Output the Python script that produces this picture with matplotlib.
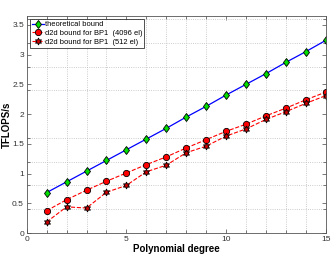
import matplotlib
matplotlib.use("Agg")
import matplotlib.pyplot as plt
from matplotlib.ticker import MultipleLocator

degree = list(range(1, 16))
theoretical = [0.68, 0.86, 1.04, 1.22, 1.40, 1.58, 1.76, 1.95, 2.13, 2.32,
               2.50, 2.68, 2.87, 3.05, 3.24]
d2d_4096 = [0.375, 0.56, 0.72, 0.87, 1.01, 1.15, 1.28, 1.43, 1.57, 1.71,
            1.83, 1.97, 2.10, 2.24, 2.37]
d2d_512 = [0.185, 0.44, 0.42, 0.685, 0.80, 1.03, 1.14, 1.35, 1.46, 1.63,
           1.75, 1.91, 2.04, 2.18, 2.31]

plt.rcParams['font.family'] = ['Liberation Sans', 'DejaVu Sans']

fig = plt.figure(figsize=(3.32, 2.57), dpi=100)
ax = fig.add_axes([26.7 / 332, 24 / 257, 299 / 332, 217 / 257])

ax.plot(degree, theoretical, color='blue', lw=0.9, marker='d', ms=4.5,
        mfc='#00dd00', mec='black', mew=0.6, label='theoretical bound')
ax.plot(degree, d2d_4096, color='red', lw=0.8, ls='--', marker='o', ms=4.5,
        mfc='red', mec='black', mew=0.6, label='d2d bound for BP1  (4096 el)')
ax.plot(degree, d2d_512, color='red', lw=0.8, ls='--', marker=(6, 1, 0), ms=5,
        mfc='#cc0000', mec='black', mew=0.6, label='d2d bound for BP1  (512 el)')

ax.set_xlim(0, 15)
ax.set_ylim(0, 3.65)
ax.xaxis.set_major_locator(MultipleLocator(5))
ax.xaxis.set_minor_locator(MultipleLocator(1))
ax.yaxis.set_minor_locator(MultipleLocator(0.4))
ax.set_yticks([0, 0.5, 1, 1.5, 2, 2.5, 3, 3.5])
ax.set_yticklabels(['0', '0.5', '1', '1.5', '2', '2.5', '3', '3.5'])
ax.tick_params(which='both', direction='in', top=True, right=True, pad=2,
               labelsize=6, colors='#444444', labelcolor='#333333', width=0.5)
ax.tick_params(which='major', length=3)
ax.tick_params(which='minor', length=2)
ax.grid(True, which='minor', color='#bbbbbb', ls=':', lw=0.6)
ax.grid(False, which='major')
for s in ax.spines.values():
    s.set_linewidth(0.6)
    s.set_color('#555555')

ax.set_xlabel('Polynomial degree', fontsize=7, fontweight='bold', labelpad=1)
ax.set_ylabel('TFLOPS/s', fontsize=7, fontweight='bold')
ax.yaxis.set_label_coords(-0.048, 0.5)

leg = ax.legend(loc='upper left', fontsize=5.4, frameon=True, fancybox=False,
                edgecolor='black', handlelength=1.6, handletextpad=0.2,
                borderpad=0.25, labelspacing=0.2, borderaxespad=0.4)
leg.get_frame().set_linewidth(0.6)

fig.savefig('out.png', dpi=100)
